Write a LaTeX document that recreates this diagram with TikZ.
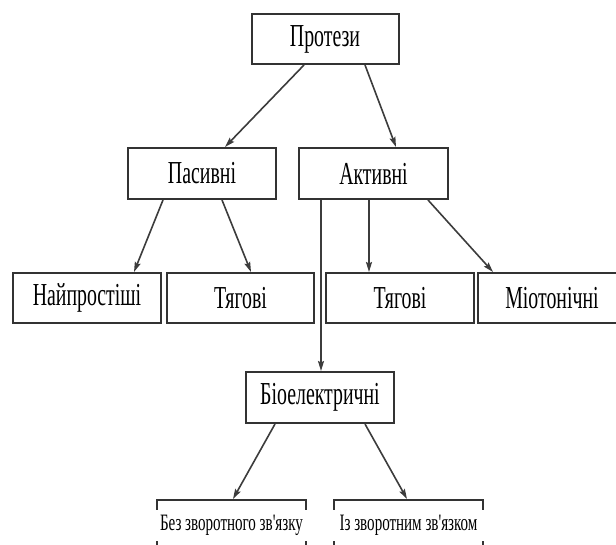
\documentclass[tikz,border=0pt]{standalone}
\usepackage{graphicx}
\usepackage{fontspec}
\setmainfont{Liberation Serif}
\usetikzlibrary{arrows.meta}

\definecolor{edge}{HTML}{333333}
\definecolor{wire}{HTML}{3C3C3C}

% condensed labels
\newcommand{\narrowlabel}[1]{\scalebox{0.62}[1]{#1}}
\newcommand{\smalllabel}[1]{\scalebox{0.64}[1]{#1}}

\tikzset{
  catbox/.style={draw=edge, line width=2pt, fill=white, inner sep=0pt,
    minimum width=148pt, minimum height=50pt,
    font=\fontsize{32}{36}\selectfont},
  leafbox/.style={draw=edge, line width=2pt, inner sep=0pt,
    minimum width=149pt, minimum height=70pt, anchor=north},
  leaftext/.style={fill=white, inner sep=0pt, minimum width=155pt,
    minimum height=31pt, font=\fontsize{23.5}{26}\selectfont},
  link/.style={draw=wire, line width=1.6pt,
    -{Stealth[length=10pt,width=6pt,inset=1.5pt]}}
}

\begin{document}
\begin{tikzpicture}[x=1pt, y=-1pt]
  \useasboundingbox (0,0) rectangle (616,545);
  \clip (0,0) rectangle (616,545);

  % top levels
  \node[catbox, minimum width=147pt] (prot) at (325,39) {\narrowlabel{Протези}};
  \node[catbox, minimum height=51pt] (pas) at (202,173.5) {\narrowlabel{Пасивні}};
  \node[catbox, minimum width=149pt, minimum height=51pt] (akt) at (373.5,173.5) {\narrowlabel{Активні}};

  % second row
  \node[catbox] (naip) at (87,298) {\narrowlabel{Найпростіші}};
  \node[catbox, minimum width=147pt] (tyagp) at (240.5,298) {\narrowlabel{Тягові}};
  \node[catbox] (tyaga) at (400,298) {\narrowlabel{Тягові}};
  \node[catbox] (mio) at (552,298) {\narrowlabel{Міотонічні}};

  % bioelectric branch
  \node[catbox, minimum height=51pt] (bio) at (320,397.5) {\narrowlabel{Біоелектричні}};

  \node[leafbox] (bez) at (231.5,499) {};
  \node[leafbox] (iz) at (408.5,499) {};
  \node[leaftext] (beztext) at (231.5,525.5) {\smalllabel{Без зворотного зв\textquotesingle язку}};
  \node[leaftext] (iztext) at (408.5,525.5) {\smalllabel{Із зворотним зв\textquotesingle язком}};

  % connectors
  \draw[link] ([xshift=-21pt]prot.south) -- ([xshift=23pt]pas.north);
  \draw[link] ([xshift=40pt]prot.south) -- ([xshift=22.5pt]akt.north);

  \draw[link] ([xshift=-39pt]pas.south) -- ([xshift=47pt]naip.north);
  \draw[link] ([xshift=20pt]pas.south) -- ([xshift=10.5pt]tyagp.north);

  \draw[link] ([xshift=-52.5pt]akt.south) -- ([xshift=1pt]bio.north);
  \draw[link] ([xshift=-4.5pt]akt.south) -- ([xshift=-31pt]tyaga.north);
  \draw[link] ([xshift=54.5pt]akt.south) -- ([xshift=-59pt]mio.north);

  \draw[link] ([xshift=-45pt]bio.south) -- ([xshift=1.5pt]bez.north);
  \draw[link] ([xshift=45pt]bio.south) -- ([xshift=-1.5pt]iz.north);
\end{tikzpicture}
\end{document}
